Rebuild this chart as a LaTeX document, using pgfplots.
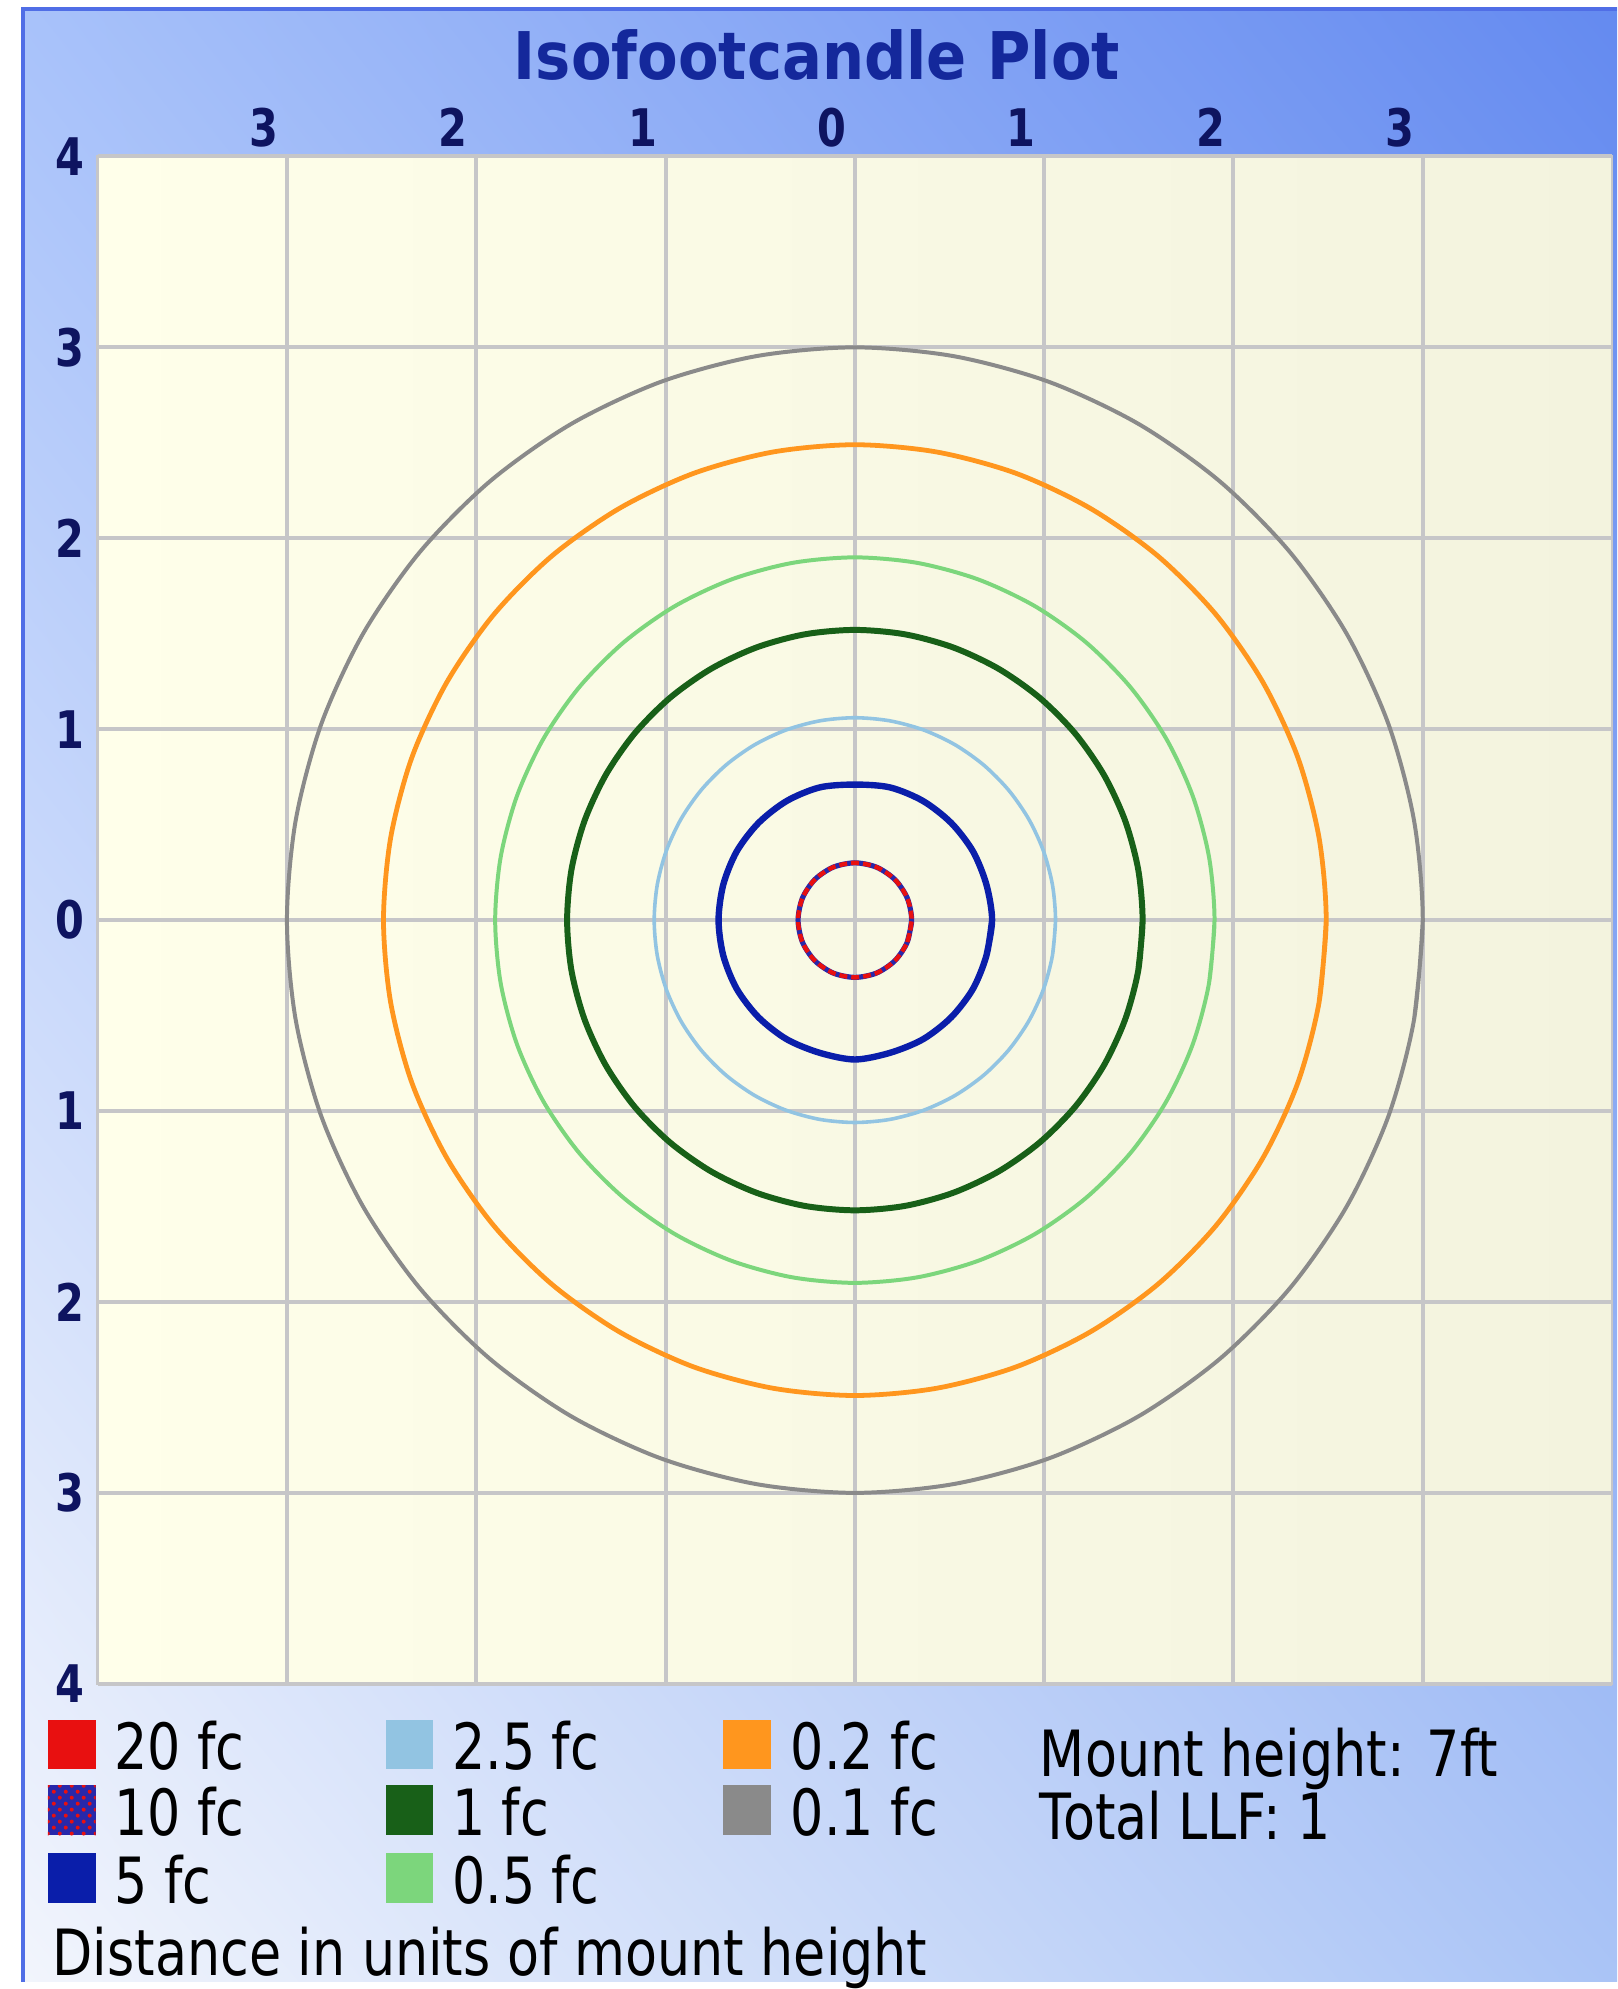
\documentclass[border=0pt]{standalone}
\usepackage{pgfplots}
\pgfplotsset{compat=1.18}
\usepackage{fontspec}
\setmainfont{DejaVu Sans}[FakeStretch=0.82]
\newfontfamily\titlefont{DejaVu Sans}[FakeStretch=0.9]
\newfontfamily\tickfont{DejaVu Sans}[FakeStretch=0.8]
\usetikzlibrary{patterns,shadings}
\definecolor{panUL}{RGB}{168,194,250}
\definecolor{panUR}{RGB}{100,138,240}
\definecolor{panLL}{RGB}{242,245,252}
\definecolor{panLR}{RGB}{170,196,246}
\definecolor{panBorder}{RGB}{80,110,230}
\definecolor{ivoryL}{RGB}{255,255,234}
\definecolor{ivoryR}{RGB}{243,243,222}
\definecolor{gridc}{RGB}{198,198,200}
\definecolor{ticknavy}{RGB}{14,20,96}
\definecolor{titlenavy}{RGB}{20,40,155}
\definecolor{c20}{RGB}{232,16,16}
\definecolor{c10}{RGB}{40,40,170}
\definecolor{c5}{RGB}{10,30,170}
\definecolor{c25}{RGB}{146,196,226}
\definecolor{c1}{RGB}{24,96,24}
\definecolor{c05}{RGB}{124,214,124}
\definecolor{c02}{RGB}{255,150,30}
\definecolor{c01}{RGB}{138,138,138}
\begin{document}
\begin{tikzpicture}
\begin{scope}[x=0.25pt,y=0.25pt]
\path[use as bounding box] (0,0) rectangle (1623,1989);
\fill[white] (0,0) rectangle (1623,1989);
\shade[upper left=panUL, upper right=panUR, lower left=panLL, lower right=panLR] (22,0) rectangle (1623,1981);
\draw[panBorder, line width=1pt] (23,0) -- (23,1980) -- (1623,1980);
\end{scope}
\begin{axis}[
  at={(24.5pt,74.75pt)}, anchor=south west,
  scale only axis, width=380pt, height=383.25pt,
  xmin=-4, xmax=4, ymin=-4, ymax=4,
  xtick={-3,-2,-1,0,1,2,3}, ytick={-4,-3,-2,-1,0,1,2,3,4},
  xticklabels={3,2,1,0,1,2,3},
  yticklabels={4,3,2,1,0,1,2,3,4},
  xticklabel pos=upper,
  major tick length=0pt,
  grid=major, grid style={gridc, line width=1pt},
  axis line style={draw=gridc, line width=0.6pt},
  tick label style={font=\tickfont\bfseries\fontsize{13}{13}\selectfont, text=ticknavy},
  xticklabel style={anchor=center, yshift=7.25pt, xshift=-5.75pt},
  yticklabel style={anchor=center, xshift=-7pt},
  axis background/.style={left color=ivoryL, right color=ivoryR},
  /pgf/number format/assume math mode=true,
]
% 0.1 fc
\addplot[c01, line width=1pt, smooth, no markers] coordinates {
(2.954,-0.521) (3,0) (2.954,0.521) (2.819,1.026) (2.598,1.5) (2.298,1.928) (1.928,2.298) (1.5,2.598) (1.026,2.819) (0.521,2.954) (0,3)
(-0.521,2.954) (-1.026,2.819) (-1.5,2.598) (-1.928,2.298) (-2.298,1.928) (-2.598,1.5) (-2.819,1.026) (-2.954,0.521) (-3,0)
(-2.954,-0.521) (-2.819,-1.026) (-2.598,-1.5) (-2.298,-1.928) (-1.928,-2.298) (-1.5,-2.598) (-1.026,-2.819) (-0.521,-2.954) (0,-3)
(0.521,-2.954) (1.026,-2.819) (1.5,-2.598) (1.928,-2.298) (2.298,-1.928) (2.598,-1.5) (2.819,-1.026) (2.954,-0.521) (3,0)};
% 0.2 fc
\addplot[c02, line width=1.2pt, smooth, no markers] coordinates {
(2.452,-0.432) (2.49,0) (2.452,0.432) (2.340,0.852) (2.156,1.245) (1.907,1.601) (1.601,1.907) (1.245,2.156) (0.852,2.340) (0.432,2.452) (0,2.49)
(-0.432,2.452) (-0.852,2.340) (-1.245,2.156) (-1.601,1.907) (-1.907,1.601) (-2.156,1.245) (-2.340,0.852) (-2.452,0.432) (-2.49,0)
(-2.452,-0.432) (-2.340,-0.852) (-2.156,-1.245) (-1.907,-1.601) (-1.601,-1.907) (-1.245,-2.156) (-0.852,-2.340) (-0.432,-2.452) (0,-2.49)
(0.432,-2.452) (0.852,-2.340) (1.245,-2.156) (1.601,-1.907) (1.907,-1.601) (2.156,-1.245) (2.340,-0.852) (2.452,-0.432) (2.49,0)};
% 0.5 fc
\addplot[c05, line width=1pt, smooth, no markers] coordinates {
(1.871,-0.330) (1.9,0) (1.871,0.330) (1.785,0.650) (1.645,0.95) (1.455,1.221) (1.221,1.455) (0.95,1.645) (0.650,1.785) (0.330,1.871) (0,1.9)
(-0.330,1.871) (-0.650,1.785) (-0.95,1.645) (-1.221,1.455) (-1.455,1.221) (-1.645,0.95) (-1.785,0.650) (-1.871,0.330) (-1.9,0)
(-1.871,-0.330) (-1.785,-0.650) (-1.645,-0.95) (-1.455,-1.221) (-1.221,-1.455) (-0.95,-1.645) (-0.650,-1.785) (-0.330,-1.871) (0,-1.9)
(0.330,-1.871) (0.650,-1.785) (0.95,-1.645) (1.221,-1.455) (1.455,-1.221) (1.645,-0.95) (1.785,-0.650) (1.871,-0.330) (1.9,0)};
% 1 fc
\addplot[c1, line width=1.5pt, smooth, no markers] coordinates {
(1.497,-0.264) (1.52,0) (1.497,0.264) (1.428,0.520) (1.316,0.76) (1.164,0.977) (0.977,1.164) (0.76,1.316) (0.520,1.428) (0.264,1.497) (0,1.52)
(-0.264,1.497) (-0.520,1.428) (-0.76,1.316) (-0.977,1.164) (-1.164,0.977) (-1.316,0.76) (-1.428,0.520) (-1.497,0.264) (-1.52,0)
(-1.497,-0.264) (-1.428,-0.520) (-1.316,-0.76) (-1.164,-0.977) (-0.977,-1.164) (-0.76,-1.316) (-0.520,-1.428) (-0.264,-1.497) (0,-1.52)
(0.264,-1.497) (0.520,-1.428) (0.76,-1.316) (0.977,-1.164) (1.164,-0.977) (1.316,-0.76) (1.428,-0.520) (1.497,-0.264) (1.52,0)};
% 2.5 fc
\addplot[c25, line width=0.9pt, smooth, no markers] coordinates {
(1.044,-0.184) (1.06,0) (1.044,0.184) (0.996,0.363) (0.918,0.53) (0.812,0.681) (0.681,0.812) (0.53,0.918) (0.363,0.996) (0.184,1.044) (0,1.06)
(-0.184,1.044) (-0.363,0.996) (-0.53,0.918) (-0.681,0.812) (-0.812,0.681) (-0.918,0.53) (-0.996,0.363) (-1.044,0.184) (-1.06,0)
(-1.044,-0.184) (-0.996,-0.363) (-0.918,-0.53) (-0.812,-0.681) (-0.681,-0.812) (-0.53,-0.918) (-0.363,-0.996) (-0.184,-1.044) (0,-1.06)
(0.184,-1.044) (0.363,-0.996) (0.53,-0.918) (0.681,-0.812) (0.812,-0.681) (0.918,-0.53) (0.996,-0.363) (1.044,-0.184) (1.06,0)};
% 5 fc
\addplot[c5, line width=1.6pt, smooth, no markers] coordinates {
(0.695,-0.186) (0.725,0) (0.695,0.186) (0.624,0.36) (0.509,0.509) (0.36,0.624) (0.186,0.695) (0,0.71)
(-0.186,0.695) (-0.36,0.624) (-0.509,0.509) (-0.624,0.36) (-0.695,0.186) (-0.72,0)
(-0.695,-0.186) (-0.624,-0.36) (-0.509,-0.509) (-0.36,-0.624) (-0.186,-0.695) (0,-0.73)
(0.186,-0.695) (0.36,-0.624) (0.509,-0.509) (0.624,-0.36) (0.695,-0.186) (0.725,0)};
% 10 fc
\addplot[c10, line width=1.3pt, smooth, no markers] coordinates {(0.277,-0.115) (0.30,0) (0.277,0.115) (0.212,0.212) (0.115,0.277) (0,0.30) (-0.115,0.277) (-0.212,0.212) (-0.277,0.115) (-0.30,0) (-0.277,-0.115) (-0.212,-0.212) (-0.115,-0.277) (0,-0.30) (0.115,-0.277) (0.212,-0.212) (0.277,-0.115) (0.30,0)};
% 20 fc
\addplot[c20, line width=1.1pt, smooth, dash pattern=on 2pt off 1pt, no markers] coordinates {(0.277,-0.115) (0.30,0) (0.277,0.115) (0.212,0.212) (0.115,0.277) (0,0.30) (-0.115,0.277) (-0.212,0.212) (-0.277,0.115) (-0.30,0) (-0.277,-0.115) (-0.212,-0.212) (-0.115,-0.277) (0,-0.30) (0.115,-0.277) (0.212,-0.212) (0.277,-0.115) (0.30,0)};
\end{axis}
\begin{scope}[x=0.25pt,y=0.25pt]
% title
\node[text=titlenavy, font=\titlefont\bfseries\fontsize{16.5}{16.5}\selectfont, anchor=base] at (820,1989-80) {Isofootcandle Plot};
% legend squares
\def\sq#1#2#3{\fill[#3] (#1,1989-#2-25) rectangle ++(48,50);}
\sq{48}{1751}{c20}
\sq{48}{1817}{c10}
\fill[pattern=crosshatch dots, pattern color=c20] (48,1989-1817-25) rectangle ++(48,50);
\sq{48}{1885}{c5}
\sq{387}{1751}{c25}
\sq{387}{1817}{c1}
\sq{387}{1885}{c05}
\sq{726}{1751}{c02}
\sq{726}{1817}{c01}
\begin{scope}[every node/.style={anchor=base west, inner sep=0pt, font=\fontsize{16}{16}\selectfont, text=black}]
\node at (114,1989-1776) {20 fc};
\node at (114,1989-1842) {10 fc};
\node at (114,1989-1910) {5 fc};
\node at (453,1989-1776) {2.5 fc};
\node at (453,1989-1842) {1 fc};
\node at (453,1989-1910) {0.5 fc};
\node at (793,1989-1776) {0.2 fc};
\node at (793,1989-1842) {0.1 fc};
\node at (1043,1989-1783) {Mount height: 7ft};
\node at (1043,1989-1846) {Total LLF: 1};
\node at (52,1989-1983) {Distance in units of mount height};
\end{scope}
\end{scope}
\end{tikzpicture}
\end{document}
